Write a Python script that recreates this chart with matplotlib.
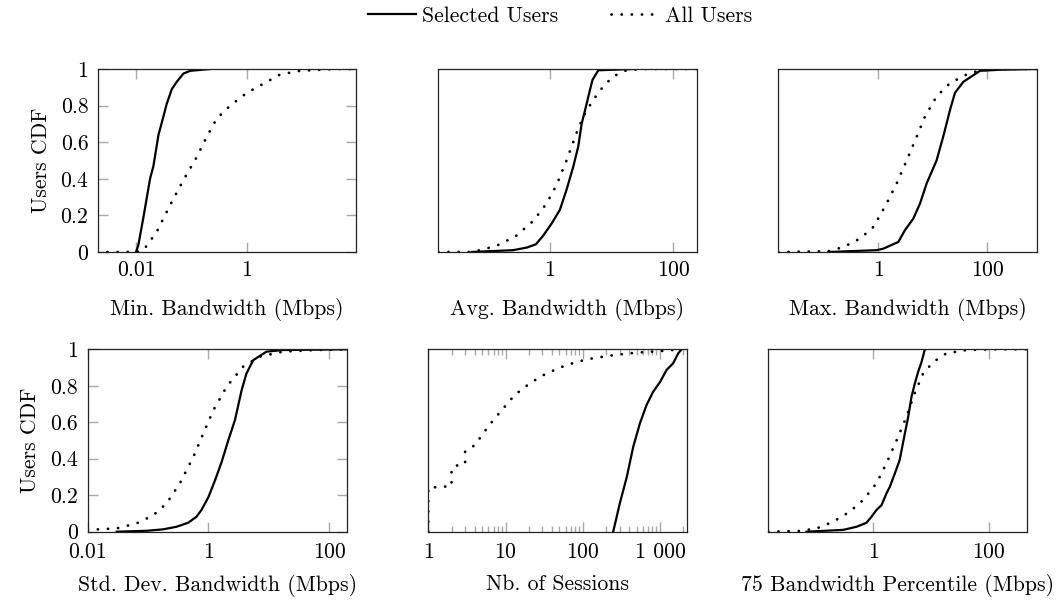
import matplotlib
matplotlib.use("Agg")
import matplotlib.pyplot as plt
from matplotlib.ticker import FixedLocator, FixedFormatter, NullFormatter, NullLocator

plt.rcParams['font.family'] = ['cmr10', 'DejaVu Serif']
plt.rcParams['axes.unicode_minus'] = False
plt.rcParams['axes.formatter.use_mathtext'] = True

# ---------------- data ----------------
# Panel 1: Min. Bandwidth
min_sel_x = [0.0100, 0.0110, 0.0136, 0.0179, 0.0206, 0.0254, 0.0312, 0.0358, 0.0442, 0.0543, 0.0716, 0.0946, 0.219]
min_sel_y = [0, 0.037, 0.19, 0.40, 0.47, 0.64, 0.74, 0.81, 0.89, 0.93, 0.975, 0.99, 1.0]
min_all_x = [0.002, 0.0103, 0.0136, 0.0236, 0.0411, 0.0716, 0.125, 0.189, 0.287, 0.501, 1.0, 2.0, 3.98, 9.12, 37.2, 93]
min_all_y = [0, 0, 0.01, 0.11, 0.256, 0.393, 0.52, 0.63, 0.73, 0.80, 0.87, 0.92, 0.97, 0.99, 1.0, 1.0]

# Panel 2: Avg. Bandwidth
avg_sel_x = [0.0537, 0.254, 0.419, 0.593, 0.780, 1.064, 1.45, 1.86, 2.39, 2.88, 3.27, 3.94, 4.47, 4.90, 6.08, 10.7, 22.4]
avg_sel_y = [0, 0.01, 0.024, 0.042, 0.09, 0.155, 0.23, 0.34, 0.466, 0.576, 0.70, 0.81, 0.887, 0.94, 0.993, 0.996, 1.0]
avg_all_x = [0.0155, 0.050, 0.083, 0.155, 0.288, 0.537, 0.883, 1.28, 1.86, 2.70, 3.47, 5.01, 7.33, 10.7, 17.4, 32.4, 240]
avg_all_y = [0, 0, 0.013, 0.042, 0.09, 0.17, 0.265, 0.366, 0.50, 0.65, 0.74, 0.83, 0.905, 0.96, 0.993, 1.0, 1.0]

# Panel 3: Max. Bandwidth
max_sel_x = [0.121, 0.933, 1.23, 2.33, 3.09, 4.39, 5.82, 7.71, 11.7, 15.5, 20.7, 25.5, 36.3, 51.6, 73.3, 170, 794]
max_sel_y = [0, 0.01, 0.018, 0.055, 0.12, 0.183, 0.265, 0.375, 0.50, 0.63, 0.777, 0.87, 0.93, 0.96, 0.99, 0.996, 1.0]
max_all_x = [0.0146, 0.121, 0.228, 0.461, 0.813, 1.42, 2.17, 3.31, 5.05, 7.18, 11.7, 20.7, 41.7, 73.3, 170, 826]
max_all_y = [0, 0.004, 0.027, 0.073, 0.137, 0.265, 0.375, 0.50, 0.63, 0.74, 0.85, 0.923, 0.97, 0.993, 1.0, 1.0]

# Panel 4: Std. Dev. Bandwidth
std_sel_x = [0.0302, 0.0944, 0.178, 0.295, 0.461, 0.634, 0.766, 1.0, 1.29, 1.66, 2.14, 2.75, 3.55, 4.27, 5.50, 9.12, 17.0, 190]
std_sel_y = [0, 0.005, 0.013, 0.027, 0.049, 0.082, 0.119, 0.19, 0.283, 0.384, 0.503, 0.612, 0.777, 0.868, 0.94, 0.987, 0.996, 1.0]
std_all_x = [0.01, 0.0302, 0.0646, 0.122, 0.202, 0.336, 0.562, 0.826, 1.21, 2.0, 3.76, 7.08, 17.0, 60.3, 190]
std_all_y = [0.01, 0.018, 0.046, 0.09, 0.155, 0.265, 0.41, 0.54, 0.667, 0.795, 0.905, 0.96, 0.987, 0.996, 1.0]

# Panel 5: Nb. of Sessions
ses_sel_x = [248, 302, 372, 451, 550, 671, 818, 1000, 1219, 1479, 1726, 1905]
ses_sel_y = [0, 0.155, 0.30, 0.466, 0.594, 0.695, 0.768, 0.82, 0.887, 0.923, 0.978, 1.0]
ses_all_x = [1, 1, 1.6, 2, 2, 2.3, 3, 3, 4.02, 5.15, 6.9, 9.8, 13.2, 20.7, 33.9, 61.7, 112, 224, 447, 1000, 1820]
ses_all_y = [0, 0.241, 0.247, 0.25, 0.348, 0.362, 0.372, 0.44, 0.475, 0.54, 0.61, 0.686, 0.75, 0.814, 0.868, 0.914, 0.945, 0.965, 0.98, 0.99, 1.0]

# Panel 6: 75 Bandwidth Percentile
p75_sel_x = [0.0698, 0.302, 0.513, 0.766, 0.935, 1.14, 1.40, 1.70, 1.95, 2.38, 2.88, 3.55, 4.05, 4.62, 5.25, 6.03, 6.89, 7.87]
p75_sel_y = [0, 0.01, 0.027, 0.049, 0.082, 0.119, 0.146, 0.21, 0.247, 0.32, 0.393, 0.54, 0.63, 0.74, 0.81, 0.877, 0.93, 1.0]
p75_all_x = [0.0152, 0.0537, 0.105, 0.204, 0.394, 0.671, 1.14, 1.70, 2.54, 3.78, 5.25, 7.36, 11.0, 18.6, 41.7, 105, 470]
p75_all_y = [0, 0.004, 0.018, 0.055, 0.11, 0.174, 0.265, 0.375, 0.50, 0.63, 0.76, 0.868, 0.93, 0.978, 0.996, 1.0, 1.0]

xlabels = ["Min. Bandwidth (Mbps)", "Avg. Bandwidth (Mbps)", "Max. Bandwidth (Mbps)",
           "Std. Dev. Bandwidth (Mbps)", "Nb. of Sessions", "75 Bandwidth Percentile (Mbps)"]
y_ticks = [0, 0.2, 0.4, 0.6, 0.8, 1]
y_ticklabels = ["0", "0.2", "0.4", "0.6", "0.8", "1"]
legend_labels = ["Selected Users", "All Users"]

# ---------------- layout ----------------
W, H = 1063, 601
fig = plt.figure(figsize=(W / 100, H / 100), dpi=100)

def box(x0, x1, y0, y1):
    return [x0 / W, 1 - y1 / H, (x1 - x0) / W, (y1 - y0) / H]

panels = [
    dict(pos=box(98, 356, 69, 252), xlim=(0.00206, 93), ticks=[0.01, 1], tl=["0.01", "1"],
         sel=(min_sel_x, min_sel_y), all=(min_all_x, min_all_y), ylab=True, lp=13, xp=6),
    dict(pos=box(438.3, 696.7, 69, 252), xlim=(0.0155, 240), ticks=[1, 100], tl=["1", "100"],
         sel=(avg_sel_x, avg_sel_y), all=(avg_all_x, avg_all_y), ylab=False, lp=13, xp=6),
    dict(pos=box(778.3, 1037.3, 69, 252), xlim=(0.0146, 826), ticks=[1, 100], tl=["1", "100"],
         sel=(max_sel_x, max_sel_y), all=(max_all_x, max_all_y), ylab=False, lp=13, xp=6),
    dict(pos=box(87.7, 346.7, 349.3, 531.7), xlim=(0.01, 195), ticks=[0.01, 1, 100], tl=["0.01", "1", "100"],
         sel=(std_sel_x, std_sel_y), all=(std_all_x, std_all_y), ylab=True, lp=9, xp=7.5),
    dict(pos=box(428.3, 686.7, 349.3, 531.7), xlim=(1, 2220), ticks=[1, 10, 100, 1000], tl=["1", "10", "100", "1 000"],
         sel=(ses_sel_x, ses_sel_y), all=(ses_all_x, ses_all_y), ylab=False, minor=True, lp=9, xp=7.5),
    dict(pos=box(768.3, 1027.3, 349.3, 531.7), xlim=(0.0152, 470), ticks=[1, 100], tl=["1", "100"],
         sel=(p75_sel_x, p75_sel_y), all=(p75_all_x, p75_all_y), ylab=False, lp=9, xp=7.5),
]

FS = 15.7
tick_col = "#a8a8a8"
dot_style = (0, (0.05, 3.6))
handles = None
for i, p in enumerate(panels):
    ax = fig.add_axes(p["pos"])
    h1, = ax.plot(p["sel"][0], p["sel"][1], color="black", lw=1.6, solid_joinstyle="round")
    h2, = ax.plot(p["all"][0], p["all"][1], color="black", lw=2.0, linestyle=dot_style,
                  dash_capstyle="round")
    handles = [h1, h2]
    ax.set_xscale("log")
    ax.set_xlim(*p["xlim"])
    ax.set_ylim(0, 1)
    ax.xaxis.set_major_locator(FixedLocator(p["ticks"]))
    ax.xaxis.set_major_formatter(FixedFormatter(p["tl"]))
    if p.get("minor"):
        minors = [m * 10 ** e for e in range(0, 4) for m in range(2, 10)]
        ax.xaxis.set_minor_locator(FixedLocator(minors))
        ax.xaxis.set_minor_formatter(NullFormatter())
    else:
        ax.xaxis.set_minor_locator(NullLocator())
    ax.tick_params(axis="x", which="major", direction="in", top=True, bottom=True,
                   length=7, width=1.0, color=tick_col, labelsize=FS, pad=p["xp"])
    ax.tick_params(axis="x", which="minor", direction="in", top=True, bottom=True,
                   length=4.5, width=1.0, color=tick_col)
    if p["ylab"]:
        ax.set_yticks(y_ticks)
        ax.set_yticklabels(y_ticklabels)
        ax.tick_params(axis="y", direction="in", left=True, right=True,
                       length=7, width=1.0, color=tick_col, labelsize=FS, pad=7)
        ax.set_ylabel("Users CDF", fontsize=FS, labelpad=7)
    else:
        ax.set_yticks([])
    ax.set_xlabel(xlabels[i], fontsize=FS, labelpad=p["lp"])
    for s in ax.spines.values():
        s.set_linewidth(0.9)
        s.set_color("#222222")

fig.legend(handles, legend_labels, loc="center", bbox_to_anchor=(560 / W, 1 - 16 / H),
           ncol=2, frameon=False, fontsize=FS, handlelength=2.2, handletextpad=0.3,
           columnspacing=2.4)

fig.savefig("out.png", dpi=100)
